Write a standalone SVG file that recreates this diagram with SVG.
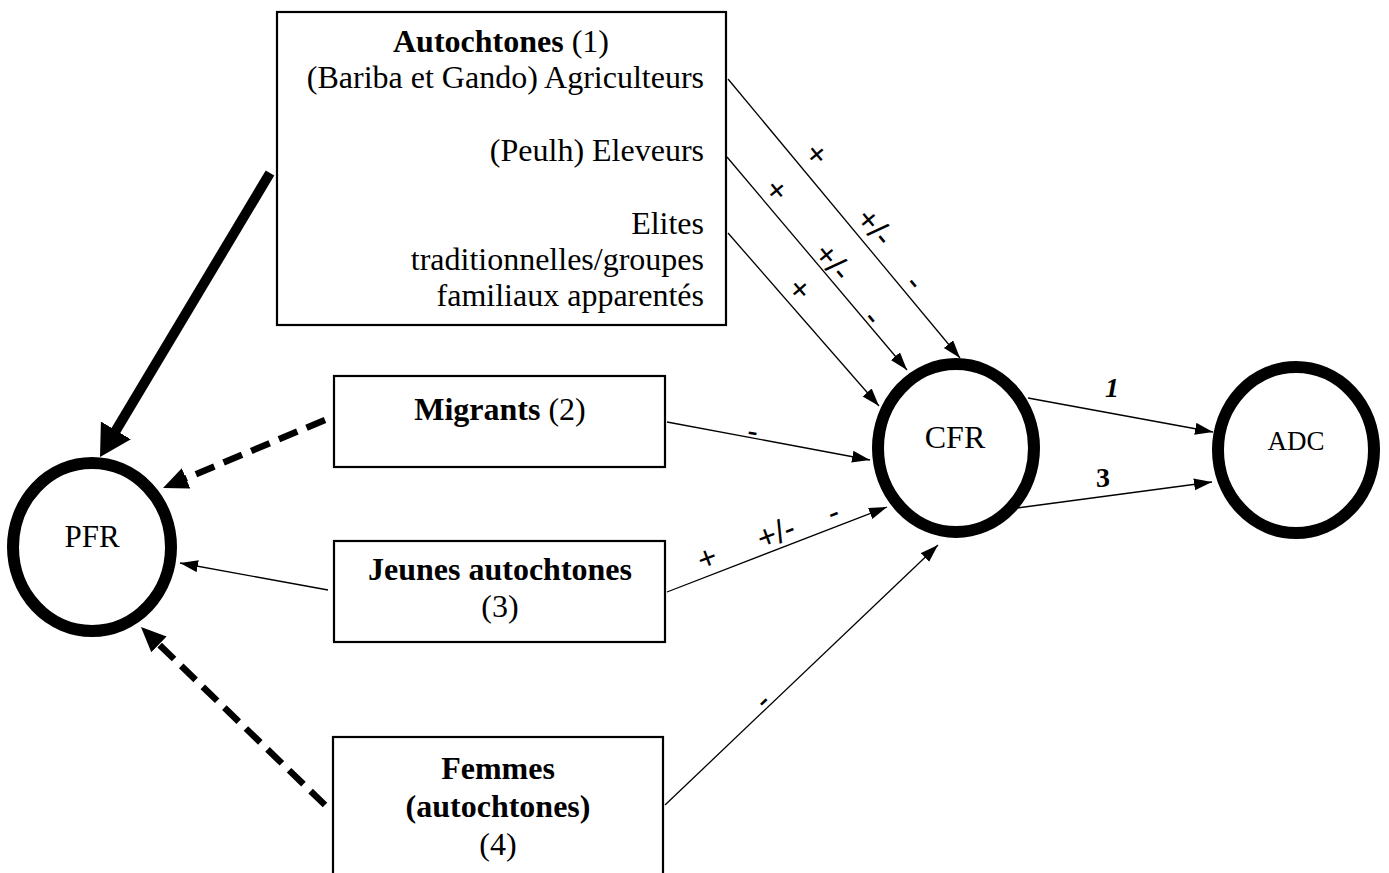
<svg xmlns="http://www.w3.org/2000/svg" width="1389" height="873" viewBox="0 0 1389 873">
<style>
text{font-family:"Liberation Serif","Times New Roman",serif;fill:#000}
.t{font-size:32px}
.b{font-weight:bold}
.box{fill:#fff;stroke:#000;stroke-width:2.2}
.ring{fill:#fff;stroke:#000;stroke-width:12}
.thin{stroke:#000;stroke-width:1.3;fill:none;marker-end:url(#ah)}
.thick{stroke:#000;stroke-width:10;fill:none;marker-end:url(#ahThick)}
.dash{stroke:#000;stroke-width:6.5;fill:none;stroke-dasharray:20 10;marker-end:url(#ahDash)}
.lbl{font-family:"Liberation Sans",Arial,sans-serif;font-size:32px;text-anchor:middle;dominant-baseline:central}
.num{font-size:28px;font-weight:bold;text-anchor:middle}
</style>
<defs>
<marker id="ah" markerUnits="userSpaceOnUse" markerWidth="20" markerHeight="14" refX="18" refY="6" orient="auto"><path d="M0,0 L18,6 L0,12 z" fill="#000"/></marker>
<marker id="ahThick" markerUnits="userSpaceOnUse" markerWidth="34" markerHeight="36" refX="2" refY="17.5" orient="auto"><path d="M0,0 L31,17.5 L0,35 z" fill="#000"/></marker>
<marker id="ahDash" markerUnits="userSpaceOnUse" markerWidth="28" markerHeight="24" refX="2" refY="11" orient="auto"><path d="M0,0 L25,11 L0,22 z" fill="#000"/></marker>
</defs>
<rect width="1389" height="873" fill="#fff"/>

<g id="connectors">
<line class="thick" x1="270" y1="173" x2="114.9" y2="432.1"/>
<line class="dash" x1="325" y1="420" x2="184.2" y2="479.1"/>
<line class="thin" x1="328" y1="590" x2="180" y2="563"/>
<line class="dash" x1="325" y1="805" x2="157.5" y2="643"/>
<line class="thin" x1="728" y1="79" x2="960" y2="358"/>
<line class="thin" x1="727" y1="157" x2="907" y2="370"/>
<line class="thin" x1="728" y1="233" x2="879" y2="406"/>
<line class="thin" x1="667" y1="422" x2="870" y2="460"/>
<line class="thin" x1="667" y1="592" x2="887" y2="507"/>
<line class="thin" x1="665" y1="805" x2="938" y2="545"/>
<line class="thin" x1="1028" y1="398" x2="1213" y2="432"/>
<line class="thin" x1="1017" y1="508" x2="1212" y2="482"/>
<g id="connector-labels">
<text class="lbl" transform="translate(817,154) rotate(50)">+</text>
<text class="lbl" transform="translate(875,227) rotate(50)">+/-</text>
<text class="lbl" transform="translate(915,282) rotate(50)">-</text>
<text class="lbl" transform="translate(777,190) rotate(50)">+</text>
<text class="lbl" transform="translate(833,262) rotate(50)">+/-</text>
<text class="lbl" transform="translate(873,317) rotate(50)">-</text>
<text class="lbl" transform="translate(800,289) rotate(49)">+</text>
<text class="lbl" transform="translate(753,431) rotate(10.6)">-</text>
<text class="lbl" transform="translate(707,558) rotate(-21)">+</text>
<text class="lbl" transform="translate(776,533) rotate(-21)">+/-</text>
<text class="lbl" transform="translate(833,512) rotate(-21)">-</text>
<text class="lbl" transform="translate(762,700) rotate(-43.6)">-</text>
<text class="num" x="1112" y="397" font-style="italic">1</text>
<text class="num" x="1103" y="487">3</text>
</g>
</g>

<g id="autochtones">
<rect class="box" x="277" y="12" width="449" height="313"/>
<text class="t" x="501" y="52" text-anchor="middle"><tspan class="b">Autochtones</tspan> (1)</text>
<text class="t" x="704" y="88" text-anchor="end">(Bariba et Gando) Agriculteurs</text>
<text class="t" x="704" y="161" text-anchor="end">(Peulh) Eleveurs</text>
<text class="t" x="704" y="234" text-anchor="end">Elites</text>
<text class="t" x="704" y="270" text-anchor="end">traditionnelles/groupes</text>
<text class="t" x="704" y="306" text-anchor="end">familiaux apparentés</text>
</g>

<g id="migrants">
<rect class="box" x="334" y="376" width="331" height="91"/>
<text class="t" x="500" y="420" text-anchor="middle"><tspan class="b">Migrants</tspan> (2)</text>
</g>

<g id="jeunes">
<rect class="box" x="334" y="541" width="331" height="101"/>
<text class="t b" x="500" y="580" text-anchor="middle">Jeunes autochtones</text>
<text class="t" x="500" y="617" text-anchor="middle">(3)</text>
</g>

<g id="femmes">
<rect class="box" x="333" y="737" width="330" height="150"/>
<text class="t b" x="498" y="779" text-anchor="middle">Femmes</text>
<text class="t b" x="498" y="817" text-anchor="middle">(autochtones)</text>
<text class="t" x="498" y="855" text-anchor="middle">(4)</text>
</g>

<g id="pfr">
<ellipse class="ring" cx="92" cy="547" rx="79" ry="84"/>
<text x="92" y="547" font-size="31" text-anchor="middle">PFR</text>
</g>

<g id="cfr">
<ellipse class="ring" cx="956" cy="448" rx="78" ry="84"/>
<text x="955" y="448" font-size="32" text-anchor="middle">CFR</text>
</g>

<g id="adc">
<ellipse class="ring" cx="1296" cy="450" rx="78" ry="83"/>
<text x="1296" y="450" font-size="27" text-anchor="middle">ADC</text>
</g>
</svg>
